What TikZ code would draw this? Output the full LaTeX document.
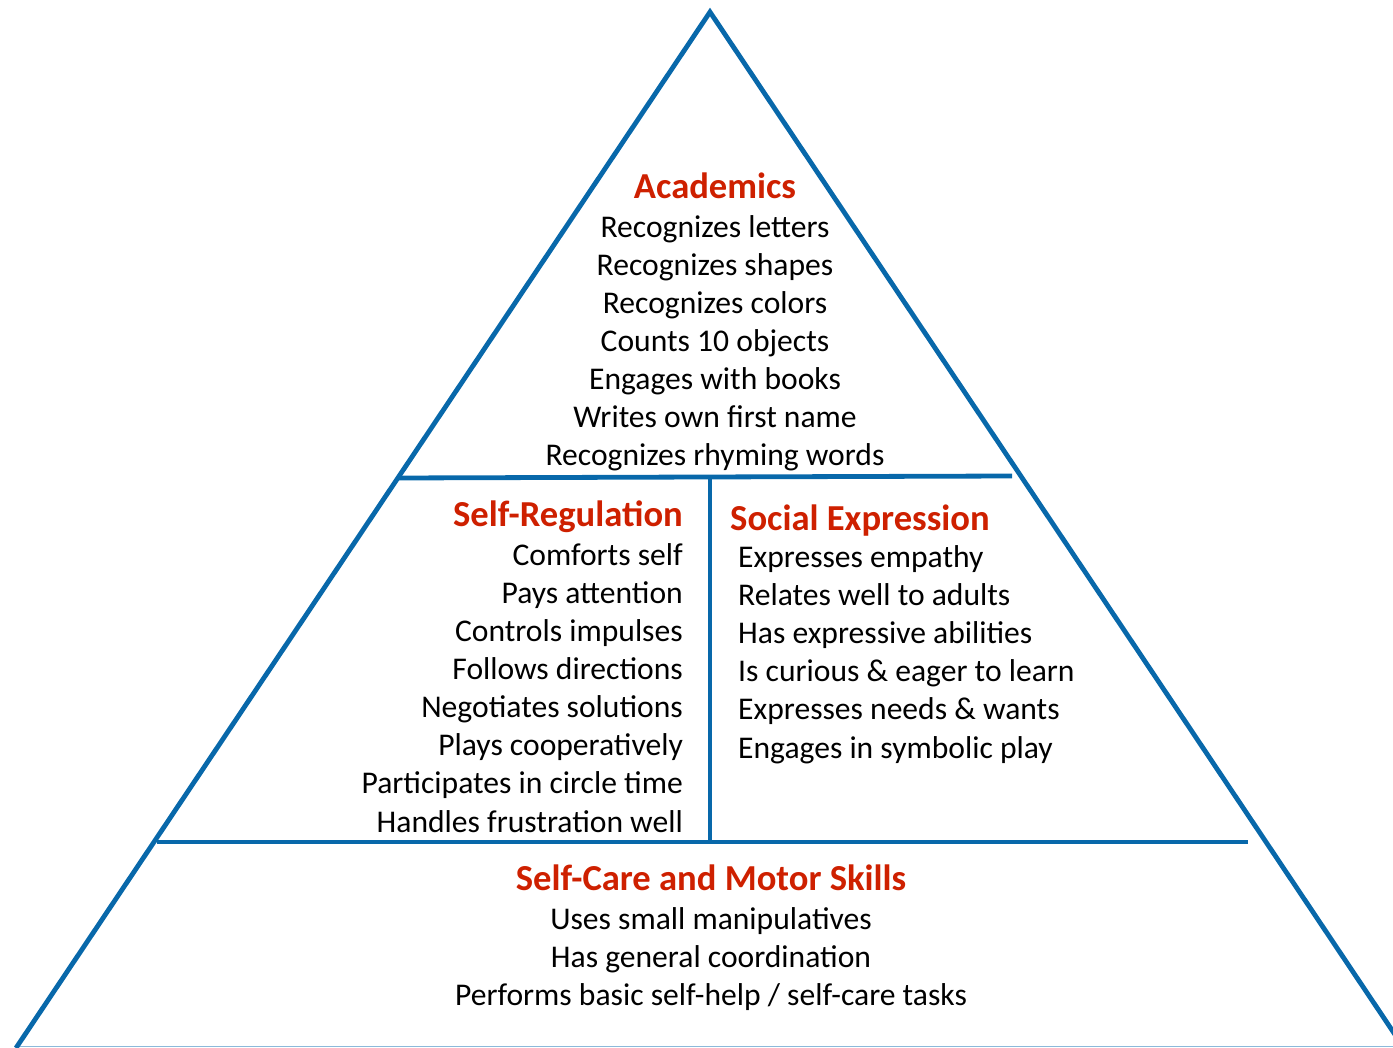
\documentclass[tikz,border=0pt]{standalone}
\usepackage{fontspec}
\setmainfont{Carlito}
\definecolor{pyrblue}{RGB}{8,104,170}
\definecolor{pyrred}{RGB}{206,32,0}
\definecolor{baseblue}{RGB}{140,185,218}

\begin{document}
\begin{tikzpicture}[x=1pt,y=-1pt,line join=miter,
  edge/.style={pyrblue,line width=4.8pt},
  head/.style={pyrred,font=\fontsize{36.6}{40}\selectfont\bfseries,inner sep=0pt},
  item/.style={font=\fontsize{31.6}{38}\selectfont,inner sep=0pt}]
\useasboundingbox (0,0) rectangle (1393,1048);
\clip (0,0) rectangle (1393,1048);
% frame of the pyramid
\draw[baseblue,line width=1.5pt] (15,1046.5) -- (1393,1046.5);
\draw[edge] (16,1048) -- (710,12) -- (1404,1048);
\draw[edge] (398,478) -- (1012,476);
\draw[edge] (157,842) -- (1248,842);
\draw[edge] (710,478) -- (710,840);
% top level
\node[head,anchor=base] (acad) at (715,199) {Academics};
\foreach \t [count=\i from 0] in {Recognizes letters,Recognizes shapes,Recognizes colors,
  Counts 10 objects,Engages with books,Writes own first name,Recognizes rhyming words}
  \node[item,anchor=base] (acad\i) at (715,{238+38*\i}) {\t};
% middle left
\node[head,anchor=base east] (selfreg) at (683,526) {Self-Regulation};
\foreach \t [count=\i from 0] in {Comforts self,Pays attention,Controls impulses,Follows directions,
  Negotiates solutions,Plays cooperatively,Participates in circle time,Handles frustration well}
  \node[item,anchor=base east] (selfreg\i) at (683,{565+38.15*\i}) {\t};
% middle right
\node[head,anchor=base west] (social) at (730,530) {Social Expression};
\foreach \t [count=\i from 0] in {Expresses empathy,Relates well to adults,Has expressive abilities,
  Is curious \& eager to learn,Expresses needs \& wants,Engages in symbolic play}
  \node[item,anchor=base west] (social\i) at (738,{567+38.2*\i}) {\t};
% bottom level
\node[head,anchor=base] (selfcare) at (711,890) {Self-Care and Motor Skills};
\foreach \t [count=\i from 0] in {Uses small manipulatives,Has general coordination,
  Performs basic self-help / self-care tasks}
  \node[item,anchor=base] (selfcare\i) at (711,{929+38*\i}) {\t};
\end{tikzpicture}
\end{document}
